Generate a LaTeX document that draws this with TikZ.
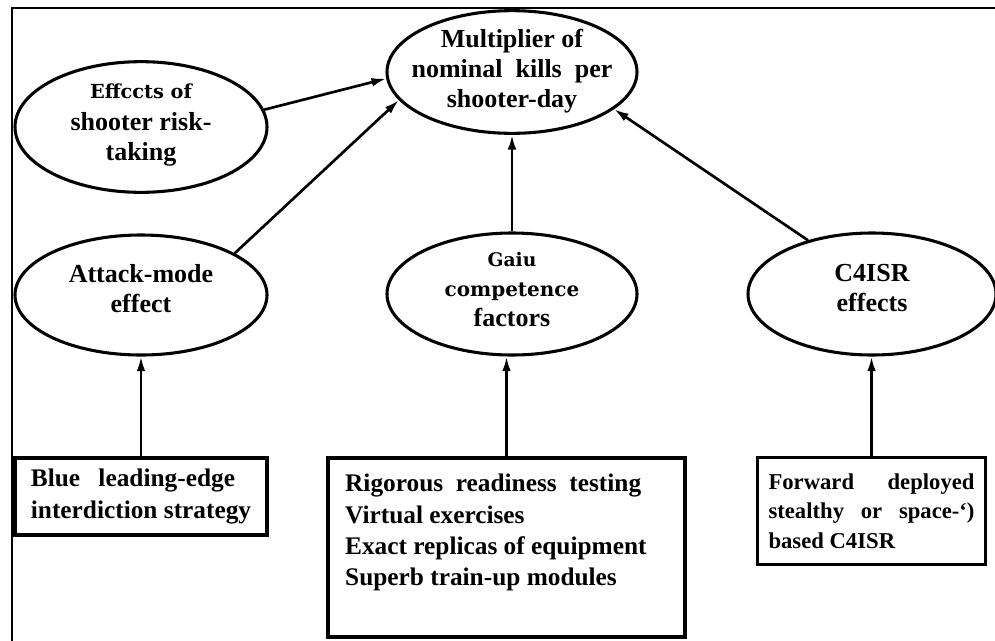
\documentclass[tikz,border=0pt]{standalone}
\usepackage{fontspec}
\setmainfont{Liberation Serif}
\newfontfamily\widefont{DejaVu Serif}
\usetikzlibrary{positioning, arrows.meta, shapes.geometric}

% keep the text from widening the ellipse
\newcommand\bubtext[1]{\raisebox{-5pt}{\smash{\makebox[0pt]{\begin{tabular}{@{}c@{}}#1\end{tabular}}}}}

\tikzset{
  bubble/.style={ellipse, draw, line width=2.3pt, inner sep=0pt,
    font=\bfseries\fontsize{19.5}{22.5}\selectfont},
  srcbox/.style={rectangle, draw, line width=2.3pt, inner sep=0pt,
    font=\bfseries\fontsize{19}{23.5}\selectfont},
  feed/.style={-{Latex[length=11pt,width=6.5pt]}, line width=2pt},
}

\begin{document}
\begin{tikzpicture}[x=0.75pt, y=-0.75pt]
\useasboundingbox (0,0) rectangle (995,640);
% frame
\draw[line width=2.2pt] (12,645) -- (12,8) -- (1000,8);

% ellipses
\node[bubble, minimum width=187.5pt, minimum height=92pt] (mult) at (512,72)
  {\raisebox{-4.5pt}{\bubtext{Multiplier of\\nominal \ kills \ per\\shooter-day}}};
\node[bubble, minimum width=189pt, minimum height=98pt] (risk) at (141,127)
  {\bubtext{{\widefont\fontsize{14.5}{16}\selectfont Effccts of}\\[2pt]shooter risk-\\taking}};
\node[bubble, minimum width=189pt, minimum height=90pt] (att) at (141,295)
  {\bubtext{Attack-mode\\effect}};
\node[bubble, minimum width=187.5pt, minimum height=91.5pt] (gain) at (512,294)
  {\bubtext{{\widefont\fontsize{14}{16}\selectfont Gaiu}\\{\widefont\fontsize{15}{16}\selectfont competence}\\factors}};
\node[bubble, minimum width=186pt, minimum height=91.5pt] (c4) at (872,294)
  {\bubtext{C4ISR\\effects}};

% boxes
\node[srcbox, minimum width=189pt, minimum height=57.75pt, align=left] (blue) at (141,496.5)
  {Blue\hspace{9pt} leading-edge\\interdiction strategy};
\node[srcbox, minimum width=267.75pt, minimum height=134.25pt] (comp) at (506.5,547.5)
  {\parbox[c][110pt][t]{242pt}{\raggedright Rigorous \ readiness \ testing\\Virtual exercises\\Exact replicas of equipment\\Superb train-up modules}};
\node[srcbox, anchor=north west, minimum height=80.25pt, inner xsep=8.25pt,
  font=\bfseries\fontsize{17}{22}\selectfont] (fwd) at (756,456)
  {\parbox{154.5pt}{Forward deployed\linebreak stealthy or space-‘)\linebreak based C4ISR}\hspace{12pt}};

% arrows
\draw[feed] (risk.8) -- (mult.183);
\draw[feed] (att.24) -- (mult.194);
\draw[feed] (gain) -- (mult);
\draw[feed] (c4.140) -- (mult.340);
\draw[feed] (blue.north) -- (att.south);
\draw[feed] (comp.north) -- (comp.north |- gain.south);
\draw[feed] (fwd.north) -- (fwd.north |- c4.south);
\end{tikzpicture}
\end{document}
